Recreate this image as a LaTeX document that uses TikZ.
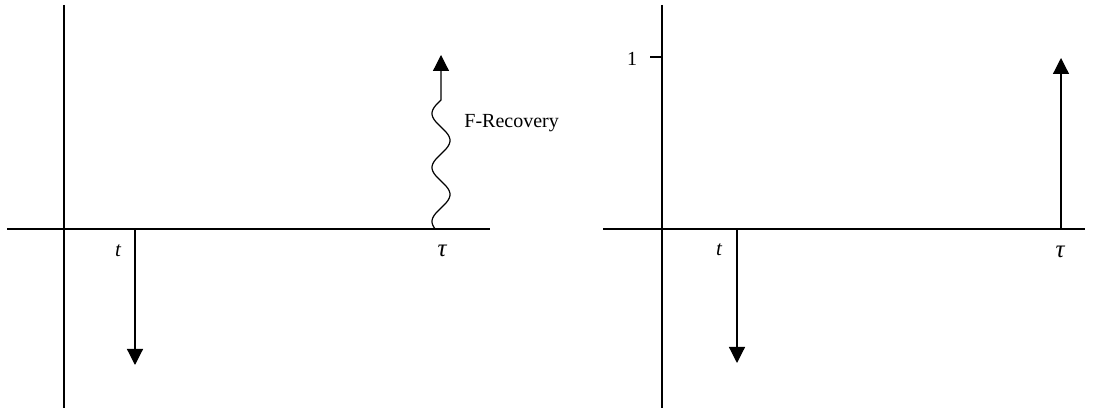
\documentclass[tikz,border=0pt]{standalone}
\usepackage{fontspec}
\setmainfont{Liberation Serif}
\usetikzlibrary{arrows.meta}
\begin{document}
\begin{tikzpicture}[x=0.5pt,y=-0.5pt,
  axis/.style={line width=0.7pt},
  impulse/.style={line width=0.6pt,-{Triangle[width=8pt,length=8pt]}},
  lbl/.style={font=\fontsize{10}{12}\selectfont, inner sep=0pt},
  gk/.style={font=\fontsize{12.5}{14}\selectfont\itshape, inner sep=0pt}]
\useasboundingbox (0,0) rectangle (1104,410);
% ---------- left panel ----------
\coordinate (LvTop) at (64,5);
\coordinate (LvBot) at (64,408);
\coordinate (LhL) at (7,229);
\coordinate (LhR) at (490,229);
\draw[axis] (LvTop) -- (LvBot);
\draw[axis] (LhL) -- (LhR);
\coordinate (LtBase) at (135,229);
\coordinate (LtTip) at (135,365);
\draw[impulse] (LtBase) -- (LtTip);
\node[lbl, font=\fontsize{10.5}{12}\selectfont\itshape] (Lt) at (118,251) {t};
\node[gk] (Ltau) at (442,251) {τ};
\coordinate (RecTop) at (441,100);
\coordinate (RecTip) at (441,55);
\draw[impulse] plot[variable=\t, domain=0:129, samples=130] ({441-9*sin(6.6667*(129-\t))}, {229-\t}) -- (RecTop) -- (RecTip);
\node[lbl, anchor=base west] (Rec) at (464,128) {F-Recovery};
% ---------- right panel ----------
\coordinate (RvTop) at (662,5);
\coordinate (RvBot) at (662,408);
\coordinate (RhL) at (603,229);
\coordinate (RhR) at (1085,229);
\draw[axis] (RvTop) -- (RvBot);
\draw[axis] (RhL) -- (RhR);
\coordinate (TickL) at (650,57);
\coordinate (TickR) at (662,57);
\draw[axis] (TickL) -- (TickR);
\node[lbl] (one) at (632,59) {1};
\coordinate (RtBase) at (737,229);
\coordinate (RtTip) at (737,363);
\draw[impulse] (RtBase) -- (RtTip);
\node[lbl, font=\fontsize{10.5}{12}\selectfont\itshape] (Rt) at (719,250) {t};
\coordinate (RuBase) at (1061,229);
\coordinate (RuTip) at (1061,58);
\draw[impulse] (RuBase) -- (RuTip);
\node[gk] (Rtau) at (1060,252) {τ};
\end{tikzpicture}
\end{document}
